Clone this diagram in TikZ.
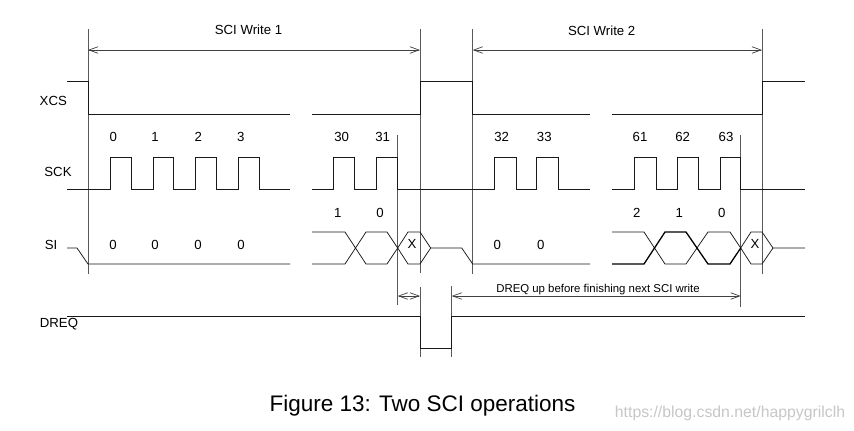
\documentclass[tikz,border=0pt]{standalone}
\usepackage{fontspec}
\setmainfont{Liberation Sans}
\usetikzlibrary{arrows.meta}
\begin{document}
\begin{tikzpicture}[x=1pt,y=-1pt,
  sig/.style={line width=0.75pt, draw=black!90, line join=miter},
  thicksig/.style={line width=1.3pt, draw=black, line join=round},
  marker/.style={line width=0.75pt, draw=black!65},
  dim/.style={line width=0.7pt, draw=black!75,
    {Straight Barb[length=9pt,width=6.5pt]}-{Straight Barb[length=9pt,width=6.5pt]}},
  lab/.style={font=\fontsize{13.2}{15}\selectfont, inner sep=0pt},
  note/.style={font=\fontsize{11.4}{13}\selectfont, inner sep=0pt, anchor=base},
  caption/.style={font=\fontsize{22.5}{26}\selectfont, inner sep=0pt, anchor=base},
  wmark/.style={font=\fontsize{15.8}{18}\selectfont, inner sep=0pt, anchor=base, text=black!22},
  ]
\useasboundingbox[fill=white] (0,0) rectangle (854,431);

% ---- marker coordinates ----
\coordinate (a1) at (88,29);    \coordinate (a1b) at (88,274);
\coordinate (a2) at (420,29);   \coordinate (a2b) at (420,273);
\coordinate (a3) at (472.7,29); \coordinate (a3b) at (472.7,274);
\coordinate (a4) at (762,29);   \coordinate (a4b) at (762,274);
\coordinate (b1) at (397.7,135); \coordinate (b1b) at (397.7,305);
\coordinate (b2) at (740.7,135); \coordinate (b2b) at (740.7,307);
\coordinate (c1) at (420,287);  \coordinate (c1b) at (420,357);
\coordinate (c2) at (451.7,286); \coordinate (c2b) at (451.7,357);

\draw[marker] (a1) -- (a1b);
\draw[marker] (a2) -- (a2b);
\draw[marker] (a3) -- (a3b);
\draw[marker] (a4) -- (a4b);
\draw[marker] (b1) -- (b1b);
\draw[marker] (b2) -- (b2b);
\draw[marker] (c1) -- (c1b);
\draw[marker] (c2) -- (c2b);

% ---- dimension arrows ----
\coordinate (w1l) at (88,50);    \coordinate (w1r) at (420,50);
\coordinate (w2l) at (472.7,50); \coordinate (w2r) at (762,50);
\coordinate (d1l) at (397.7,296); \coordinate (d1r) at (420,296);
\coordinate (d2l) at (451.7,296); \coordinate (d2r) at (740.7,296);
\draw[dim] (w1l) -- (w1r);
\draw[dim] (w2l) -- (w2r);
\draw[dim] (d1l) -- (d1r);
\draw[dim] (d2l) -- (d2r);

\node[lab] (tw1) at (248.5,30) {SCI Write 1};
\node[lab] (tw2) at (601.7,30.5) {SCI Write 2};
\node[note] (tdreq) at (598,292.5) {DREQ up before finishing next SCI write};

% ---- signal names ----
\node[lab] (nxcs) at (53.3,100.5) {XCS};
\node[lab] (nsck) at (58,171.5) {SCK};
\node[lab] (nsi) at (51,244.5) {SI};
\node[lab] (ndreq) at (59,324.5) {DREQ};

% ---- XCS ----
\draw[sig] (67,81) -- (88,81) -- (88,114) -- (290,114);
\draw[sig] (312,114) -- (420,114) -- (420,81) -- (472.7,81) -- (472.7,114) -- (590,114);
\draw[sig] (612,114) -- (762,114) -- (762,81) -- (805,81);

% ---- SCK ----
\draw[sig] (67,189) -- (110,189) -- (110,157) -- (131,157) -- (131,189)
  -- (153,189) -- (153,157) -- (173,157) -- (173,189)
  -- (195,189) -- (195,157) -- (216,157) -- (216,189)
  -- (238,189) -- (238,157) -- (259,157) -- (259,189) -- (290,189);
\draw[sig] (312,189) -- (333,189) -- (333,157) -- (354,157) -- (354,189)
  -- (376,189) -- (376,157) -- (397.7,157) -- (397.7,189)
  -- (494,189) -- (494,157) -- (516,157) -- (516,189)
  -- (536,189) -- (536,157) -- (558,157) -- (558,189) -- (590,189);
\draw[sig] (612,189) -- (634,189) -- (634,157) -- (656,157) -- (656,189)
  -- (677,189) -- (677,157) -- (698,157) -- (698,189)
  -- (720,189) -- (720,157) -- (740.7,157) -- (740.7,189) -- (805,189);

\foreach \x/\t [count=\i] in {113.3/0,155/1,198.3/2,240.7/3,341.7/30,382.7/31,501.7/32,544.3/33,640/61,682.7/62,726/63}
  \node[lab] (ck\i) at (\x,137) {\t};

% ---- SI ----
\draw[sig] (67,248) -- (77,248) -- (88,264) -- (290,264);
\draw[sig] (312,232) -- (345,232) -- (366,264) -- (387,264) -- (397.7,248)
  -- (408,264) -- (420,264) -- (430.7,248) -- (461.7,248) -- (472.7,264) -- (590,264);
\draw[sig] (312,264) -- (345,264) -- (366,232) -- (387,232) -- (397.7,248)
  -- (408,232) -- (420,232) -- (430.7,248);
\draw[sig] (612,232) -- (644,232) -- (665,264) -- (686,264) -- (708,232) -- (730,232)
  -- (740.7,248) -- (751,232) -- (762,232) -- (773,248) -- (805,248);
\draw[sig] (740.7,248) -- (751,264) -- (762,264) -- (773,248);
\draw[thicksig] (612,264) -- (644,264) -- (665,232) -- (686,232) -- (708,264) -- (730,264) -- (740.7,248);

\foreach \x [count=\i] in {113,155,198,241,497.3,540.7}
  \node[lab] (si\i) at (\x,244.5) {0};
\node[lab] (sx1) at (412,243.5) {X};
\node[lab] (sx2) at (755,243.5) {X};
\foreach \x/\t [count=\i] in {337.7/1,380/0,636.7/2,679.3/1,721.7/0}
  \node[lab] (sb\i) at (\x,213) {\t};

% ---- DREQ ----
\draw[sig] (67,316.7) -- (420,316.7) -- (420,348.3) -- (451.7,348.3) -- (451.7,316.7) -- (805,316.7);

% ---- caption ----
\node[caption] (cap) at (422.5,411) {Figure 13: Two SCI operations};
\node[wmark] (wm) at (730,417) {https://blog.csdn.net/happygrilclh};
\end{tikzpicture}
\end{document}
